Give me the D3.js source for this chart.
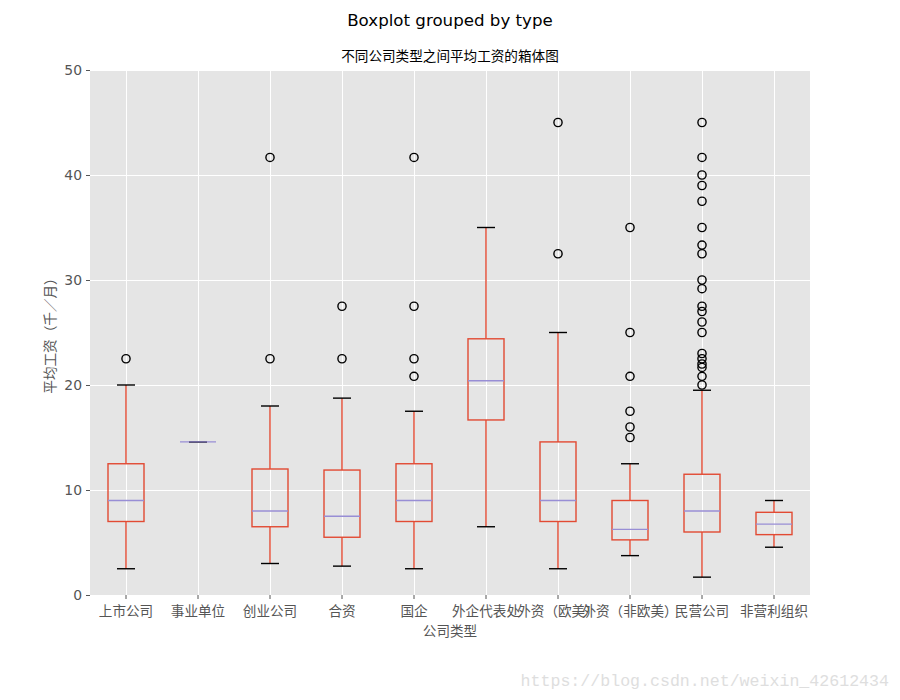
<!DOCTYPE html>
<html>
<head>
<meta charset="utf-8">
<script src="https://cdn.jsdelivr.net/npm/d3@7"></script>
<style>
  html, body { margin: 0; padding: 0; background: #ffffff; }
  svg { display: block; }
  text { font-family: "DejaVu Sans", "Noto Sans CJK SC", sans-serif; }
</style>
</head>
<body>
<svg id="chart" width="900" height="700"></svg>
<script>
// ---- data ----
const categories = ["上市公司", "事业单位", "创业公司", "合资", "国企", "外企代表处", "外资（欧美）", "外资（非欧美）", "民营公司", "非营利组织"];
const whiskerLow  = [2.5, 14.58, 3, 2.75, 2.5, 6.5, 2.5, 3.75, 1.7, 4.55];
const q1Values    = [7, 14.58, 6.5, 5.5, 7, 16.67, 7, 5.25, 6, 5.75];
const medians     = [9, 14.58, 8, 7.5, 9, 20.4, 9, 6.25, 8, 6.75];
const q3Values    = [12.5, 14.58, 12, 11.9, 12.5, 24.4, 14.58, 9, 11.5, 7.875];
const whiskerHigh = [20, 14.58, 18, 18.75, 17.5, 35, 25, 12.5, 19.5, 9];
const outliers = [
  [22.5],
  [],
  [22.5, 41.67],
  [22.5, 27.5],
  [20.83, 22.5, 27.5, 41.67],
  [],
  [32.5, 45],
  [15, 16, 17.5, 20.83, 25, 35],
  [20, 20.83, 21.67, 22, 22.5, 23, 25, 26, 27, 27.5, 29.17, 30, 32.5, 33.33, 35, 37.5, 39, 40, 41.67, 45],
  []
];
const yTicks = [0, 10, 20, 30, 40, 50];

const figTitle = "Boxplot grouped by type";
const axTitle = "不同公司类型之间平均工资的箱体图";
const xLabel = "公司类型";
const yLabel = "平均工资（千／月）";
const watermark = "https://blog.csdn.net/weixin_42612434";

// ---- layout ----
const plotLeft = 90, plotRight = 810, plotTop = 70, plotBottom = 595;
const svg = d3.select("#chart");

const x = d3.scaleBand().domain(categories).range([plotLeft, plotRight]).padding(0);
const y = d3.scaleLinear().domain([0, 50]).range([plotBottom, plotTop]);
const bw = x.bandwidth();
const cx = c => x(c) + bw / 2;

// background
svg.append("rect").attr("x", plotLeft).attr("y", plotTop)
  .attr("width", plotRight - plotLeft).attr("height", plotBottom - plotTop)
  .attr("fill", "#E5E5E5");

// grid
svg.append("g").selectAll("line").data(yTicks).join("line")
  .attr("x1", plotLeft).attr("x2", plotRight)
  .attr("y1", d => Math.round(y(d)) + 0.5).attr("y2", d => Math.round(y(d)) + 0.5)
  .attr("stroke", "#ffffff").attr("stroke-width", 1);
svg.append("g").selectAll("line").data(categories).join("line")
  .attr("x1", d => Math.round(cx(d)) + 0.5).attr("x2", d => Math.round(cx(d)) + 0.5)
  .attr("y1", plotTop).attr("y2", plotBottom)
  .attr("stroke", "#ffffff").attr("stroke-width", 1);

// axes
const yAxis = svg.append("g").attr("transform", `translate(${plotLeft},0)`)
  .call(d3.axisLeft(y).tickValues(yTicks).tickSize(4).tickPadding(4).tickFormat(d3.format("d")));
const xAxis = svg.append("g").attr("transform", `translate(0,${plotBottom})`)
  .call(d3.axisBottom(x).tickSize(4).tickPadding(5));
[yAxis, xAxis].forEach(a => {
  a.select(".domain").remove();
  a.selectAll(".tick line").attr("stroke", "#555555").attr("stroke-width", 1);
  a.selectAll(".tick text").attr("fill", "#555555")
    .style("font-family", '"DejaVu Sans", "Noto Sans CJK SC", sans-serif');
});
yAxis.selectAll(".tick text").style("font-size", "13.9px");
xAxis.selectAll(".tick text").style("font-size", "13.6px").attr("dy", "0.9em");

// boxes
const boxW = bw * 0.5, capW = bw * 0.25;
const red = "#E24A33", purple = "#988ED5";
const idx = d3.range(categories.length);
const g = svg.append("g");
idx.forEach(i => {
  const c = cx(categories[i]);
  const gi = g.append("g");
  gi.append("line").attr("x1", c).attr("x2", c)
    .attr("y1", y(q1Values[i])).attr("y2", y(whiskerLow[i]))
    .attr("stroke", red).attr("stroke-width", 1.4);
  gi.append("line").attr("x1", c).attr("x2", c)
    .attr("y1", y(q3Values[i])).attr("y2", y(whiskerHigh[i]))
    .attr("stroke", red).attr("stroke-width", 1.4);
  gi.append("rect").attr("x", c - boxW / 2).attr("y", y(q3Values[i]))
    .attr("width", boxW).attr("height", y(q1Values[i]) - y(q3Values[i]))
    .attr("fill", "none").attr("stroke", red).attr("stroke-width", 1.4);
  [whiskerLow[i], whiskerHigh[i]].forEach(v => {
    gi.append("line").attr("x1", c - capW / 2).attr("x2", c + capW / 2)
      .attr("y1", y(v)).attr("y2", y(v))
      .attr("stroke", "#000000").attr("stroke-width", 1.4);
  });
  gi.append("line").attr("x1", c - boxW / 2).attr("x2", c + boxW / 2)
    .attr("y1", y(medians[i])).attr("y2", y(medians[i]))
    .attr("stroke", purple).attr("stroke-width", 1.4);
  gi.selectAll("circle").data(outliers[i]).join("circle")
    .attr("cx", c).attr("cy", d => y(d)).attr("r", 4.1)
    .attr("fill", "none").attr("stroke", "#000000").attr("stroke-width", 1.4);
});

// titles & labels
svg.append("text").attr("x", 450).attr("y", 25.5).attr("text-anchor", "middle")
  .style("font-size", "16.67px").attr("fill", "#000").text(figTitle);
svg.append("text").attr("x", 450).attr("y", 61).attr("text-anchor", "middle")
  .style("font-size", "13.6px").attr("fill", "#000")
  .style("font-family", '"Noto Sans CJK SC", sans-serif').text(axTitle);
svg.append("text").attr("x", 450).attr("y", 636).attr("text-anchor", "middle")
  .style("font-size", "13.6px").attr("fill", "#555555")
  .style("font-family", '"Noto Sans CJK SC", sans-serif').text(xLabel);
svg.append("text").attr("transform", `translate(55,${(plotTop + plotBottom) / 2}) rotate(-90)`)
  .attr("text-anchor", "middle")
  .style("font-size", "13.6px").attr("fill", "#555555")
  .style("font-family", '"Noto Sans CJK SC", sans-serif').text(yLabel);

// watermark
svg.append("text").attr("x", 889).attr("y", 686).attr("text-anchor", "end")
  .style("font-family", '"Liberation Mono", "DejaVu Sans Mono", monospace')
  .style("font-size", "16.6px").attr("fill", "#dedede").text(watermark);
</script>
</body>
</html>
